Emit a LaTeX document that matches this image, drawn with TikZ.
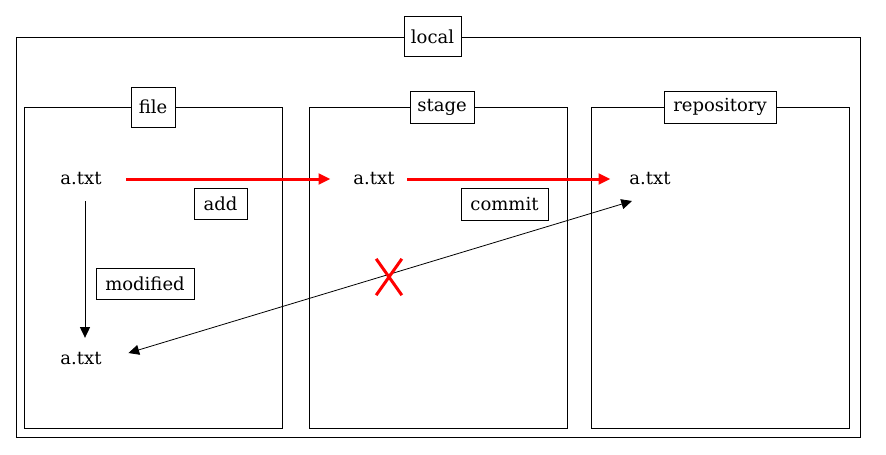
\documentclass[tikz,border=0pt]{standalone}
\usepackage{fontspec}
\setmainfont{DejaVu Serif}
\usepackage{tikz}
\usetikzlibrary{
    arrows.meta,      % arrow tips
    positioning,
    shapes.misc       % cross out
}

\begin{document}
\begin{tikzpicture}[
    x=0.75pt, y=-0.75pt,
    font=\fontsize{13.5}{16}\selectfont,
    panel/.style={draw, line width=0.75pt, inner sep=0pt},
    tag/.style={draw, fill=white, line width=0.75pt, inner sep=1pt},
    item/.style={inner sep=2pt},
    arrow/.style={-{Triangle[length=8pt, width=7.5pt]}, line width=0.75pt},
    redarrow/.style={-{Triangle[length=9pt, width=8pt]}, red, line width=2.25pt},
  ]
    \useasboundingbox (0,0) rectangle (886,454);

    % Frames
    \node[panel, minimum width=633pt, minimum height=300pt] (localbox) at (438,237) {};
    \node[panel, minimum width=193.5pt, minimum height=240.75pt] (filebox) at (153,267.5) {};
    \node[panel, minimum width=193.5pt, minimum height=240.75pt] (stagebox) at (438,267.5) {};
    \node[panel, minimum width=193.5pt, minimum height=240.75pt] (repobox) at (720,267.5) {};

    % Titles
    \node[tag, minimum width=42.75pt, minimum height=30pt] (local) at (432.5,36.5) {local};
    \node[tag, minimum width=33pt, minimum height=30pt] (file) at (153,107) {file};
    \node[tag, minimum width=48pt, minimum height=24pt] (stage) at (442,107) {stage};
    \node[tag, minimum width=84pt, minimum height=24pt] (repository) at (720,107) {repository};

    % Files
    \node[item] (f1) at (81,179) {a.txt};
    \node[item] (f2) at (81,359) {a.txt};
    \node[item] (s1) at (374,179) {a.txt};
    \node[item] (r1) at (650,179) {a.txt};

    % Arrows
    \draw[redarrow, shorten <=22pt*0.75, shorten >=20pt*0.75] (f1.east) -- (s1.west);
    \draw[redarrow, shorten <=10pt*0.75, shorten >=16pt*0.75] (s1.east) -- (r1.west);
    \draw[arrow] ([shift={(4,13)}]f1.south) -- ([shift={(4,-12)}]f2.north);
    \draw[{Triangle[length=8pt, width=7.5pt]}-{Triangle[length=8pt, width=7.5pt]}, line width=0.6pt]
      ([shift={(24,-6)}]f2.east) -- ([shift={(-18,22)}]r1.center);

    % Labels
    \node[tag, minimum width=39.75pt, minimum height=23.25pt] (add) at (220.5,203.5) {add};
    \node[tag, minimum width=65.25pt, minimum height=24pt] (commit) at (504.5,204) {commit};
    \node[tag, minimum width=73.5pt, minimum height=23.25pt] (modified) at (145,283.5) {modified};

    % Blocked
    \node[cross out, draw=red, line width=2.25pt, minimum width=17pt, minimum height=25pt, inner sep=0pt] (blocked) at (389,277) {};
\end{tikzpicture}
\end{document}
